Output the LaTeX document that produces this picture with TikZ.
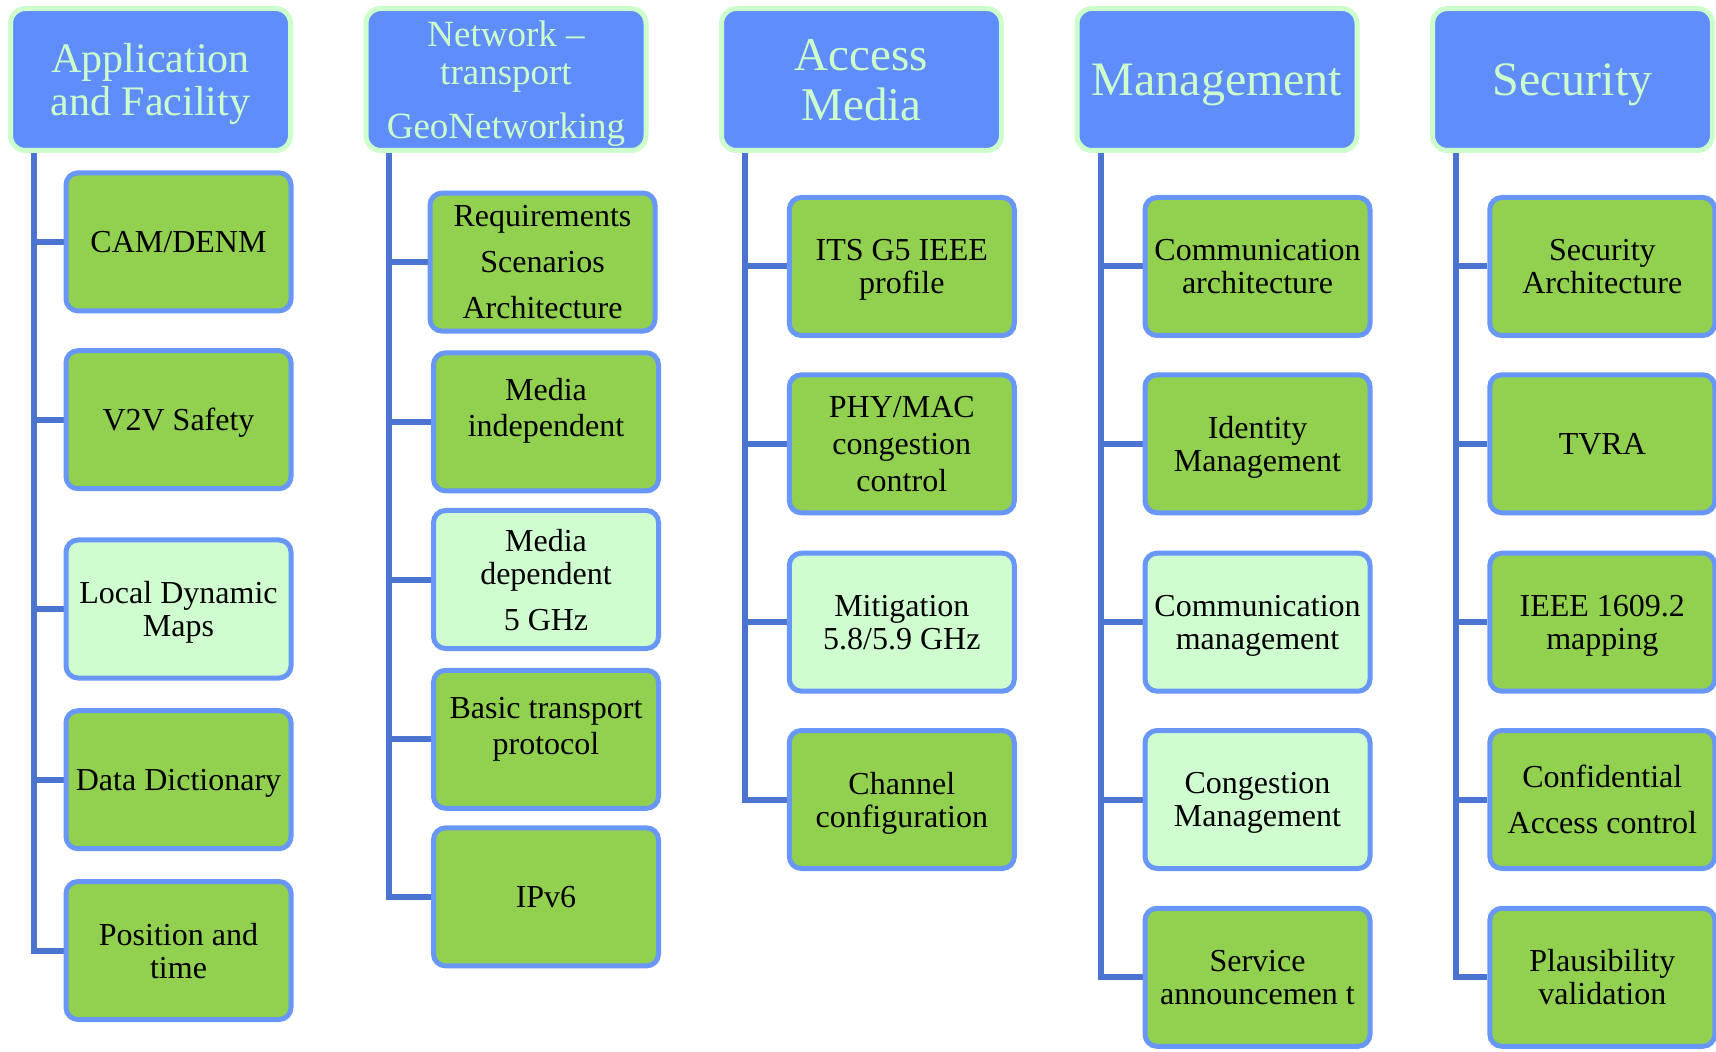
\documentclass[tikz,border=0pt]{standalone}
\usepackage{fontspec}
\setmainfont{Liberation Serif}
\usetikzlibrary{backgrounds}
\definecolor{hdrfill}{HTML}{608DFC}
\definecolor{hdrline}{HTML}{CCFFCC}
\definecolor{boxline}{HTML}{6897F7}
\definecolor{boxgreen}{HTML}{92D050}
\definecolor{boxlight}{HTML}{D0FDD0}
\definecolor{trunkc}{HTML}{4A74CF}
\begin{document}
\begin{tikzpicture}[x=0.5pt,y=-0.5pt,
 hdr/.style={draw=hdrline, fill=hdrfill, line width=2.5pt, rounded corners=7.5pt, minimum width=140pt, minimum height=71pt, inner sep=0pt, align=center, text=hdrline, text depth=0pt},
 item/.style={draw=boxline, line width=2.5pt, rounded corners=6pt, minimum width=112.5pt, minimum height=69pt, inner sep=0pt, align=center, text depth=0pt, font={\fontsize{16}{16.5}\selectfont}},
 itemg/.style={item, fill=boxgreen},
 iteml/.style={item, fill=boxlight},
 trunk/.style={draw=trunkc, line width=3pt}]
\useasboundingbox (0,0) rectangle (1716,1052);

% headers
\node[hdr, font={\fontsize{21}{21.9}\selectfont}] (h1) at (150.5,79.5) {Application\\and Facility};
\node[hdr, font={\fontsize{18.5}{19.2}\selectfont}] (h2) at (506,79.5) {Network –\\transport\\[7.6pt]GeoNetworking};
\node[hdr, font={\fontsize{23.5}{25}\selectfont}] (h3) at (861.5,79.5) {Access\\Media};
\node[hdr, font={\fontsize{24}{25}\selectfont}] (h4) at (1217,79.5) {Management};
\node[hdr, font={\fontsize{24}{25}\selectfont}] (h5) at (1572.5,79.5) {Security};

% column 1
\node[itemg] (c11) at (178.5,241.9) {CAM/DENM};
\node[itemg] (c12) at (178.5,419.7) {V2V Safety};
\node[iteml] (c13) at (178.5,609) {Local Dynamic\\Maps};
\node[itemg] (c14) at (178.5,779.7) {Data Dictionary};
\node[itemg] (c15) at (178.5,950.5) {Position and\\time};

% column 2
\node[itemg] (c21) at (542.5,262.1) {Requirements\\[6.5pt]Scenarios\\[6.5pt]Architecture};
\node[itemg, text depth=14pt] (c22) at (546,421.9) {Media\\[1.5pt]independent};
\node[iteml] (c23) at (546,579.5) {Media\\dependent\\[6.5pt]5 GHz};
\node[itemg, text depth=13pt] (c24) at (546,739.3) {Basic transport\\[1.5pt]protocol};
\node[itemg] (c25) at (546,896.9) {IPv6};

% column 3
\node[itemg] (c31) at (901.8,266.5) {ITS G5 IEEE\\profile};
\node[itemg] (c32) at (901.8,443.8) {PHY/MAC\\[2pt]congestion\\[2pt]control};
\node[iteml] (c33) at (901.8,622.2) {Mitigation\\5.8/5.9 GHz};
\node[itemg] (c34) at (901.8,799.5) {Channel\\configuration};

% column 4
\node[itemg] (c41) at (1257.5,266.5) {Communication\\architecture};
\node[itemg] (c42) at (1257.5,443.8) {Identity\\Management};
\node[iteml] (c43) at (1257.5,622.2) {Communication\\management};
\node[iteml] (c44) at (1257.5,799.5) {Congestion\\Management};
\node[itemg] (c45) at (1257.5,977.3) {Service\\announcemen t};

% column 5
\node[itemg] (c51) at (1602.3,266.5) {Security\\Architecture};
\node[itemg] (c52) at (1602.3,443.8) {TVRA};
\node[itemg] (c53) at (1602.3,622.2) {IEEE 1609.2\\mapping};
\node[itemg] (c54) at (1602.3,799.5) {Confidential\\[6.5pt]Access control};
\node[itemg] (c55) at (1602.3,977.3) {Plausibility\\validation};

% trunk tops
\coordinate (t1) at ([xshift=13pt]h1.south west);
\coordinate (t2) at ([xshift=12.7pt]h2.south west);
\coordinate (t3) at ([xshift=13pt]h3.south west);
\coordinate (t4) at ([xshift=13pt]h4.south west);
\coordinate (t5) at ([xshift=13pt]h5.south west);

\begin{scope}[on background layer]
\draw[trunk] (t1) |- (c15.west);
\foreach \c in {c11,c12,c13,c14} \draw[trunk] (t1 |- \c.west) -- (\c.west);
\draw[trunk] (t2) |- (c25.west);
\foreach \c in {c21,c22,c23,c24} \draw[trunk] (t2 |- \c.west) -- (\c.west);
\draw[trunk] (t3) |- (c34.west);
\foreach \c in {c31,c32,c33} \draw[trunk] (t3 |- \c.west) -- (\c.west);
\draw[trunk] (t4) |- (c45.west);
\foreach \c in {c41,c42,c43,c44} \draw[trunk] (t4 |- \c.west) -- (\c.west);
\draw[trunk] (t5) |- (c55.west);
\foreach \c in {c51,c52,c53,c54} \draw[trunk] (t5 |- \c.west) -- (\c.west);
\end{scope}
\end{tikzpicture}
\end{document}
